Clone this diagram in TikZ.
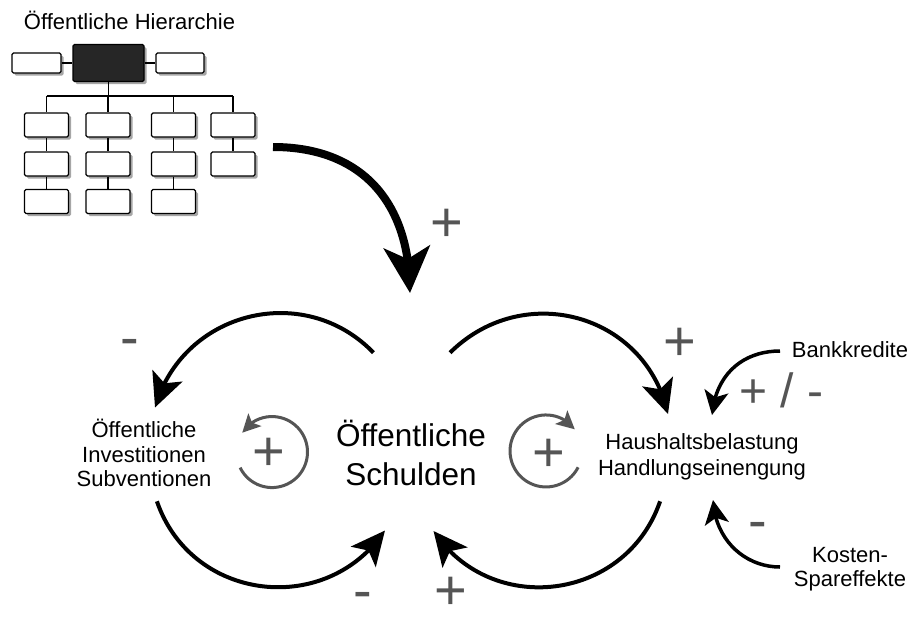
\documentclass[tikz,border=0pt]{standalone}
\usepackage{fontspec}
\setmainfont{Liberation Sans}
\usetikzlibrary{arrows.meta,bending,shadows}
\definecolor{sgray}{HTML}{555555}
\begin{document}
\begin{tikzpicture}[x=1pt,y=-1pt,
  hbox/.style={draw=black, line width=1.2pt, fill=white, rounded corners=1.5pt,
    minimum width=44pt, minimum height=24pt, inner sep=0pt,
    drop shadow={shadow xshift=2.5pt, shadow yshift=-2.5pt, fill=black, opacity=0.35}},
  hline/.style={line width=1.6pt},
  sidelbl/.style={font=\fontsize{22}{24.5}\selectfont, align=center, inner sep=0pt},
  mainlbl/.style={font=\fontsize{31.5}{39}\selectfont, align=center, inner sep=0pt},
  signlbl/.style={font=\fontsize{56}{60}\selectfont, text=sgray, inner sep=0pt, anchor=base},
  bigarr/.style={line width=8pt, -{Stealth[length=46pt,width=46pt,inset=12pt]}},
  fbarr/.style={line width=4pt, -{Stealth[length=34pt,width=32pt,inset=8pt]}},
  smarr/.style={line width=3.5pt, -{Stealth[length=24pt,width=24pt,inset=6pt]}},
  cycarr/.style={draw=sgray, line width=3pt, -{Stealth[length=18pt,width=18pt,inset=4pt]}}
]
\fill[white] (0,0) rectangle (920,619);
\useasboundingbox (0,0) rectangle (920,619);

% ---------- hierarchy ----------
\node[anchor=base, font=\fontsize{22}{24}\selectfont, inner sep=0pt] (htitle) at (129.5,29) {Öffentliche Hierarchie};
\node[hbox, fill=black!85, minimum width=71pt, minimum height=37pt] (h0) at (108.5,63) {};
\node[hbox, minimum width=49pt, minimum height=20pt] (hl) at (36.5,63) {};
\node[hbox, minimum width=48pt, minimum height=20pt] (hr) at (180,63) {};
\node[hbox] (c1r1) at (46.5,125) {};
\node[hbox] (c1r2) at (46.5,164) {};
\node[hbox] (c1r3) at (46.5,201.5) {};
\node[hbox] (c2r1) at (108,125) {};
\node[hbox] (c2r2) at (108,164) {};
\node[hbox] (c2r3) at (108,201.5) {};
\node[hbox] (c3r1) at (173.5,125) {};
\node[hbox] (c3r2) at (173.5,164) {};
\node[hbox] (c3r3) at (173.5,201.5) {};
\node[hbox] (c4r1) at (233,125) {};
\node[hbox] (c4r2) at (233,164) {};
\coordinate (busL) at (46.5,96);
\coordinate (busR) at (233,96);
\draw[hline] (hl) -- (h0);
\draw[hline] (h0) -- (hr);
\draw[hline] (busL) -- (busR);
\draw[hline] (h0.south) -- (h0.south |- busL);
\draw[hline] (c1r1.north |- busL) -- (c1r1.north);
\draw[hline] (c2r1.north |- busL) -- (c2r1.north);
\draw[hline] (c3r1.north |- busL) -- (c3r1.north);
\draw[hline] (c4r1.north |- busL) -- (c4r1.north);
\draw[hline] (c1r1) -- (c1r2);
\draw[hline] (c1r2) -- (c1r3);
\draw[hline] (c2r1) -- (c2r2);
\draw[hline] (c2r2) -- (c2r3);
\draw[hline] (c3r1) -- (c3r2);
\draw[hline] (c3r2) -- (c3r3);
\draw[hline] (c4r1) -- (c4r2);

% ---------- labels ----------
\node[mainlbl] (schulden) at (411,452.5) {Öffentliche\\Schulden};
\node[sidelbl] (invest) at (144,453) {Öffentliche\\Investitionen\\Subventionen};
\node[sidelbl, font=\fontsize{22}{26}\selectfont] (haushalt) at (702,457) {Haushaltsbelastung\\Handlungseinengung};
\node[sidelbl, anchor=base] (bank) at (850,357) {Bankkredite};
\node[sidelbl, font=\fontsize{22}{24}\selectfont] (kosten) at (850,569) {Kosten-\\Spareffekte};

% ---------- arrows ----------
\coordinate (bigS) at (273,147);
\coordinate (bigE) at (410,293);
\draw[bigarr] (bigS) .. controls (360,147) and (410,200) .. (bigE);

\coordinate (a1s) at (373.5,352.7);
\coordinate (a1e) at (155,407.5);
\draw[fbarr] (a1s) .. controls (304,280.8) and (182.6,311.1) .. (a1e);

\coordinate (a2s) at (450,352.7);
\coordinate (a2e) at (668,414);
\draw[fbarr] (a2s) .. controls (523.5,280) and (645.7,313.5) .. (a2e);

\coordinate (a3s) at (156.9,501.3);
\coordinate (a3e) at (385,530.5);
\draw[fbarr] (a3s) .. controls (191.3,601.3) and (325.9,617.9) .. (a3e);

\coordinate (a4s) at (660.1,501.3);
\coordinate (a4e) at (433.5,531);
\draw[fbarr] (a4s) .. controls (625.7,601.3) and (491.1,617.9) .. (a4e);

\coordinate (bankS) at (780,351);
\coordinate (bankE) at (712,415);
\draw[smarr] (bankS) .. controls (745,351) and (716,372) .. (bankE);

\coordinate (kostS) at (780,567);
\coordinate (kostE) at (713,500);
\draw[smarr] (kostS) .. controls (745,567) and (715,540) .. (kostE);

% ---------- loop symbols ----------
\coordinate (cycLs) at (240.1,467.6);
\draw[cycarr] (cycLs) arc[start angle=154, end angle=-147, radius=35.5];
\coordinate (cycRs) at (578.1,467.3);
\draw[cycarr] (cycRs) arc[start angle=27, end angle=323, radius=36];

% ---------- signs ----------
\node[signlbl] (pTop) at (447,241.8) {+};
\node[signlbl] (pTR) at (680,360) {+};
\node[signlbl] (mTL) at (130,356) {-};
\node[signlbl] (mBL) at (363,609) {-};
\node[signlbl] (pBR) at (451,609) {+};
\node[signlbl] (mK) at (758,539) {-};
\node[signlbl] (pCL) at (269,470) {+};
\node[signlbl] (pCR) at (549,471) {+};
\node[signlbl, font=\fontsize{48}{52}\selectfont] (pmBank) at (781,407) {+ / -};
\end{tikzpicture}
\end{document}
